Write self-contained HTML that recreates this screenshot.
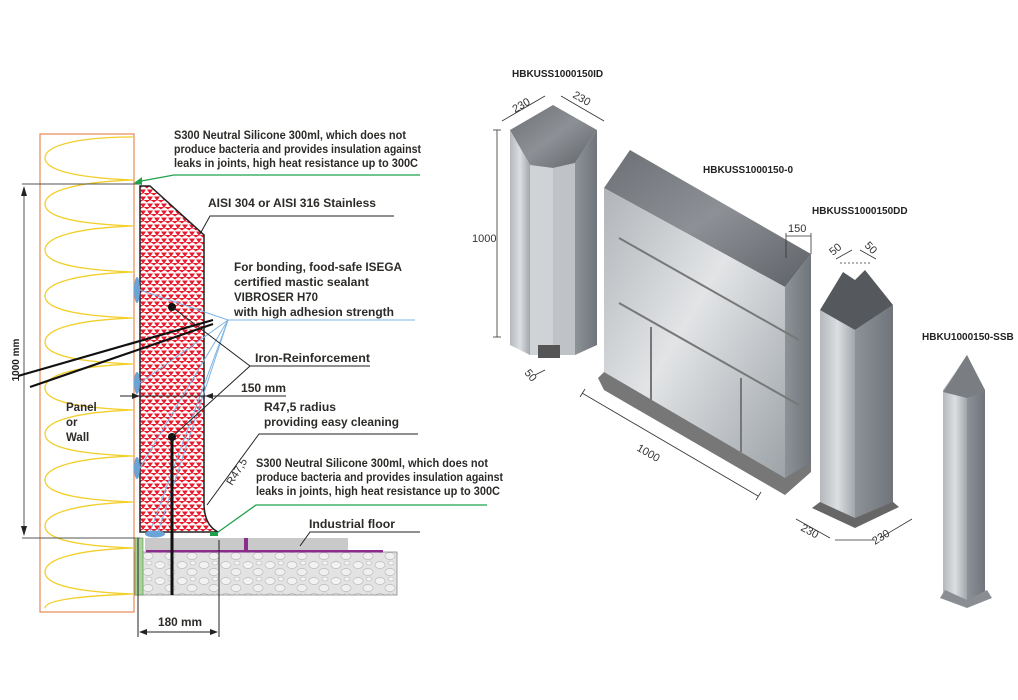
<!DOCTYPE html>
<html><head><meta charset="utf-8"><style>
html,body{margin:0;padding:0;background:#fff;}
svg{display:block;font-family:"Liberation Sans",sans-serif;}
.t{font-size:11.5px;font-weight:bold;fill:#2d2b28;}
.s{font-size:10px;font-weight:bold;fill:#222;}
.d{font-size:11px;fill:#333;}
</style></head><body>
<svg width="1018" height="700" viewBox="0 0 1018 700" xmlns="http://www.w3.org/2000/svg">
<defs>
<pattern id="tri" width="7" height="7" patternUnits="userSpaceOnUse">
<rect width="7" height="7" fill="#fff"/>
<polygon points="0,0.5 6,0.5 3,5" fill="#e8192c"/>
<polygon points="3.5,4 7,4 7,6.5" fill="#e8192c"/>
<polygon points="0,4 3,4 0,6.5" fill="#e8192c"/>
</pattern>
<pattern id="conc" width="22" height="16" patternUnits="userSpaceOnUse">
<rect width="22" height="16" fill="#e3e3e3"/>
<ellipse cx="6" cy="5" rx="5" ry="3.5" fill="#f2f2f2" stroke="#bbb" stroke-width="0.7"/>
<ellipse cx="16" cy="12" rx="5" ry="3.5" fill="#f0f0f0" stroke="#bbb" stroke-width="0.7"/>
<ellipse cx="17" cy="3" rx="3" ry="2" fill="#f4f4f4" stroke="#bbb" stroke-width="0.6"/>
</pattern>
<linearGradient id="m2" x1="0" y1="0" x2="1" y2="0">
<stop offset="0" stop-color="#b4b8bc"/><stop offset="0.5" stop-color="#dcdfe1"/><stop offset="1" stop-color="#a2a6ab"/>
</linearGradient>
<linearGradient id="m3" x1="0" y1="0" x2="1" y2="0">
<stop offset="0" stop-color="#8d9297"/><stop offset="1" stop-color="#6f757b"/>
</linearGradient>
<linearGradient id="top" x1="0" y1="0" x2="1" y2="1">
<stop offset="0" stop-color="#6c7075"/><stop offset="0.5" stop-color="#8d9196"/><stop offset="1" stop-color="#5e6267"/>
</linearGradient>
<linearGradient id="big" x1="0" y1="0" x2="1" y2="1">
<stop offset="0" stop-color="#b0b4b8"/><stop offset="0.45" stop-color="#e2e4e6"/><stop offset="1" stop-color="#9aa0a5"/>
</linearGradient>
</defs>

<!-- LEFT DRAWING -->
<rect x="40" y="134" width="94" height="478" fill="#fff" stroke="#e58a55" stroke-width="1.2"/>
<g fill="none" stroke="#f2cf2a" stroke-width="1.3">
<path d="M133,137 C80,137 45,145 45,158 C45,171 80,178 133,180 C80,182 45,190 45,204 C45,218 80,224 133,226 C80,228 45,236 45,250 C45,264 80,270 133,272 C80,274 45,282 45,296 C45,310 80,316 133,318 C80,320 45,328 45,342 C45,356 80,362 133,364 C80,366 45,374 45,388 C45,402 80,408 133,410 C80,412 45,420 45,434 C45,448 80,454 133,456 C80,458 45,466 45,480 C45,494 80,500 133,502 C80,504 45,512 45,526 C45,540 80,546 133,548 C80,550 45,558 45,572 C45,586 80,592 133,594 C80,596 45,600 45,608"/>
</g>
<g stroke="#555" stroke-width="1" fill="none">
<line x1="22" y1="184" x2="140" y2="184"/>
<line x1="22" y1="538" x2="140" y2="538"/>
<line x1="24" y1="188" x2="24" y2="534"/>
</g>
<polygon points="24,186 21,196 27,196" fill="#222"/>
<polygon points="24,536 21,526 27,526" fill="#222"/>
<text class="s" transform="translate(19,360) rotate(-90)" text-anchor="middle" font-size="11">1000 mm</text>

<rect x="135" y="552" width="262" height="43" fill="url(#conc)" stroke="#888" stroke-width="0.8"/>
<rect x="135" y="538" width="8" height="57" fill="#a8d39a" stroke="#5c8a4e" stroke-width="0.6"/>
<rect x="145" y="538" width="203" height="13" fill="#c9c9c9"/>
<rect x="146" y="550" width="237" height="2.5" fill="#8a2c8a"/>
<rect x="244" y="538" width="4" height="13" fill="#8a2c8a"/>

<path d="M140,186 L150,186 L204,235 L204,503 C204,520 210,528 218,532 L140,532 Z" fill="url(#tri)" stroke="#222" stroke-width="1.5"/>
<line x1="120" y1="396" x2="204" y2="396" stroke="#333" stroke-width="0.7"/>
<g fill="#6aa3d8">
<ellipse cx="137" cy="290" rx="3" ry="13"/>
<ellipse cx="137" cy="383" rx="3" ry="11"/>
<ellipse cx="137" cy="468" rx="3" ry="11"/>
<ellipse cx="155" cy="534" rx="10" ry="3.5"/>
</g>
<g stroke="#7fb4e4" stroke-width="1" fill="none">
<line x1="228" y1="320" x2="415" y2="320"/>
<line x1="228" y1="320" x2="140" y2="290"/>
<line x1="228" y1="320" x2="140" y2="383"/>
<line x1="228" y1="320" x2="140" y2="468"/>
<line x1="228" y1="320" x2="158" y2="532"/>
<line x1="228" y1="320" x2="150" y2="532"/>
</g>
<g stroke="#111" stroke-width="2.2" fill="none">
<line x1="18" y1="376" x2="213" y2="320"/>
<line x1="30" y1="387" x2="213" y2="324"/>
<line x1="172" y1="437" x2="172" y2="595" stroke-width="3"/>
</g>
<circle cx="172" cy="307" r="4" fill="#111"/>
<circle cx="172" cy="437" r="4" fill="#111"/>
<g stroke="#222" stroke-width="1" fill="none">
<polyline points="172,307 250,366 370,366"/>
<line x1="172" y1="437" x2="250" y2="366"/>
<line x1="120" y1="396" x2="286" y2="396"/>
<polyline points="200,234 210,216 394,216"/>
<polyline points="207,505 259,434 418,434"/>
<polyline points="300,546 310,532 420,532"/>
<line x1="138" y1="538" x2="138" y2="637"/>
<line x1="219" y1="540" x2="219" y2="637"/>
<line x1="140" y1="632" x2="217" y2="632"/>
</g>
<polygon points="139,632 147,629 147,635" fill="#222"/>
<polygon points="218,632 210,629 210,635" fill="#222"/>
<polygon points="140,396 132,393 132,399" fill="#222"/>
<polygon points="205,396 213,393 213,399" fill="#222"/>
<g stroke="#1fa24a" stroke-width="1.3" fill="none">
<polyline points="136,182 174,175 420,175"/>
<polyline points="214,535 256,505 487,505"/>
</g>
<polygon points="134,183 142,177 142,185" fill="#1fa24a"/>
<rect x="210" y="532" width="8" height="4" fill="#1fa24a"/>

<text class="t" x="174" y="139" textLength="232" lengthAdjust="spacingAndGlyphs">S300 Neutral Silicone 300ml, which does not</text>
<text class="t" x="174" y="153" textLength="247" lengthAdjust="spacingAndGlyphs">produce bacteria and provides insulation against</text>
<text class="t" x="174" y="167" textLength="244" lengthAdjust="spacingAndGlyphs">leaks in joints, high heat resistance up to 300C</text>
<text class="t" x="208" y="207" textLength="168" lengthAdjust="spacingAndGlyphs" fill="#222">AISI 304 or AISI 316 Stainless</text>
<text class="t" x="234" y="271" textLength="168" lengthAdjust="spacingAndGlyphs" fill="#222">For bonding, food-safe ISEGA</text>
<text class="t" x="234" y="286" textLength="135" lengthAdjust="spacingAndGlyphs" fill="#222">certified mastic sealant</text>
<text class="t" x="234" y="301" textLength="84" lengthAdjust="spacingAndGlyphs" fill="#222">VIBROSER H70</text>
<text class="t" x="234" y="316" textLength="160" lengthAdjust="spacingAndGlyphs" fill="#222">with high adhesion strength</text>
<text class="t" x="255" y="362" textLength="115" lengthAdjust="spacingAndGlyphs" fill="#222">Iron-Reinforcement</text>
<text class="t" x="241" y="392" textLength="45" lengthAdjust="spacingAndGlyphs" fill="#222">150 mm</text>
<text class="t" x="264" y="411" textLength="72" lengthAdjust="spacingAndGlyphs" fill="#222">R47,5 radius</text>
<text class="t" x="264" y="426" textLength="135" lengthAdjust="spacingAndGlyphs" fill="#222">providing easy cleaning</text>
<text class="d" transform="translate(232,486) rotate(-58)" font-size="11">R47,5</text>
<text class="t" x="256" y="467" textLength="232" lengthAdjust="spacingAndGlyphs">S300 Neutral Silicone 300ml, which does not</text>
<text class="t" x="256" y="481" textLength="247" lengthAdjust="spacingAndGlyphs">produce bacteria and provides insulation against</text>
<text class="t" x="256" y="495" textLength="244" lengthAdjust="spacingAndGlyphs">leaks in joints, high heat resistance up to 300C</text>
<text class="t" x="309" y="528" textLength="86" lengthAdjust="spacingAndGlyphs" fill="#222">Industrial floor</text>
<text class="t" x="66" y="411" fill="#222">Panel</text>
<text class="t" x="66" y="426" fill="#222">or</text>
<text class="t" x="66" y="441" fill="#222">Wall</text>
<text class="t" x="158" y="626" textLength="44" lengthAdjust="spacingAndGlyphs" fill="#222">180 mm</text>

<!-- column ID -->
<polygon points="510,130 530,165 530,355 510,345" fill="url(#m2)"/>
<polygon points="530,165 553,168 553,355 530,355" fill="#d0d3d6"/>
<polygon points="553,168 575,163 575,355 553,355" fill="#bfc3c7"/>
<polygon points="575,163 597,130 597,345 575,355" fill="url(#m3)"/>
<polygon points="510,130 553,105 597,130 575,163 553,168 530,165" fill="url(#top)"/>
<polygon points="538,345 560,345 560,358 538,358" fill="#555"/>
<g stroke="#333" stroke-width="0.8" fill="none">
<line x1="497" y1="130" x2="497" y2="337"/><line x1="493" y1="130" x2="501" y2="130"/><line x1="493" y1="337" x2="501" y2="337"/>
<line x1="502" y1="121" x2="545" y2="96"/><line x1="561" y1="96" x2="604" y2="121"/>
<line x1="535" y1="375" x2="545" y2="370"/>
</g>
<text class="d" x="472" y="242">1000</text>
<text class="d" transform="translate(515,113) rotate(-30)">230</text>
<text class="d" transform="translate(572,97) rotate(30)">230</text>
<text class="d" transform="translate(524,373) rotate(50)" font-size="10">50</text>
<text class="s" x="512" y="77" font-size="9.5">HBKUSS1000150ID</text>

<!-- big panel -->
<polygon points="604,188 630,150 811,254 785,287" fill="url(#top)"/>
<polygon points="604,188 785,287 785,490 604,378" fill="url(#big)"/>
<polygon points="785,287 811,254 811,470 785,490" fill="url(#m3)"/>
<polygon points="598,378 604,372 785,478 811,462 811,472 785,495 604,390" fill="#777"/>
<g stroke="#777" stroke-width="2">
<line x1="619" y1="238" x2="799" y2="340"/>
<line x1="619" y1="303" x2="799" y2="405"/>
<line x1="651" y1="327" x2="651" y2="400"/>
<line x1="741" y1="378" x2="741" y2="452"/>
</g>
<g stroke="#333" stroke-width="0.8" fill="none">
<line x1="582" y1="393" x2="758" y2="496"/><line x1="580" y1="397" x2="585" y2="389"/><line x1="756" y1="500" x2="761" y2="492"/>
<line x1="786" y1="236" x2="811" y2="236"/><line x1="786" y1="233" x2="786" y2="258"/><line x1="811" y1="233" x2="811" y2="254"/>
</g>
<text class="d" transform="translate(636,450) rotate(30)">1000</text>
<text class="d" x="788" y="232">150</text>
<text class="s" x="703" y="173" font-size="9.5">HBKUSS1000150-0</text>

<!-- DD column -->
<polygon points="820,310 855,330 855,520 820,505" fill="url(#m2)"/>
<polygon points="855,330 893,305 893,505 855,520" fill="url(#m3)"/>
<polygon points="820,310 843,272 855,280 865,270 893,305 855,330" fill="#55595e"/>
<polygon points="812,508 820,502 855,518 893,502 899,507 855,528" fill="#666"/>
<g stroke="#333" stroke-width="0.8" fill="none">
<line x1="836" y1="259" x2="852" y2="250"/><line x1="860" y1="250" x2="876" y2="259"/>
<line x1="840" y1="263" x2="870" y2="263" stroke-dasharray="2,2"/>
<line x1="796" y1="519" x2="830" y2="538"/><line x1="880" y1="538" x2="912" y2="519"/>
<line x1="835" y1="540" x2="875" y2="540"/>
</g>
<text class="d" transform="translate(833,256) rotate(-40)" font-size="10">50</text>
<text class="d" transform="translate(864,246) rotate(45)" font-size="10">50</text>
<text class="d" transform="translate(800,530) rotate(28)">230</text>
<text class="d" transform="translate(875,545) rotate(-32)">230</text>
<text class="s" x="812" y="214" font-size="9.5">HBKUSS1000150DD</text>

<!-- SSB column -->
<polygon points="943,390 967,355 967,605 943,595" fill="url(#m2)"/>
<polygon points="967,355 985,390 985,595 967,605" fill="url(#m3)"/>
<polygon points="943,392 967,355 985,392 967,398" fill="#7a7e83"/>
<polygon points="940,598 945,590 967,600 987,590 992,598 967,608" fill="#8a8e93"/>
<text class="s" x="922" y="340" font-size="9.5">HBKU1000150-SSB</text>
</svg>
</body></html>
